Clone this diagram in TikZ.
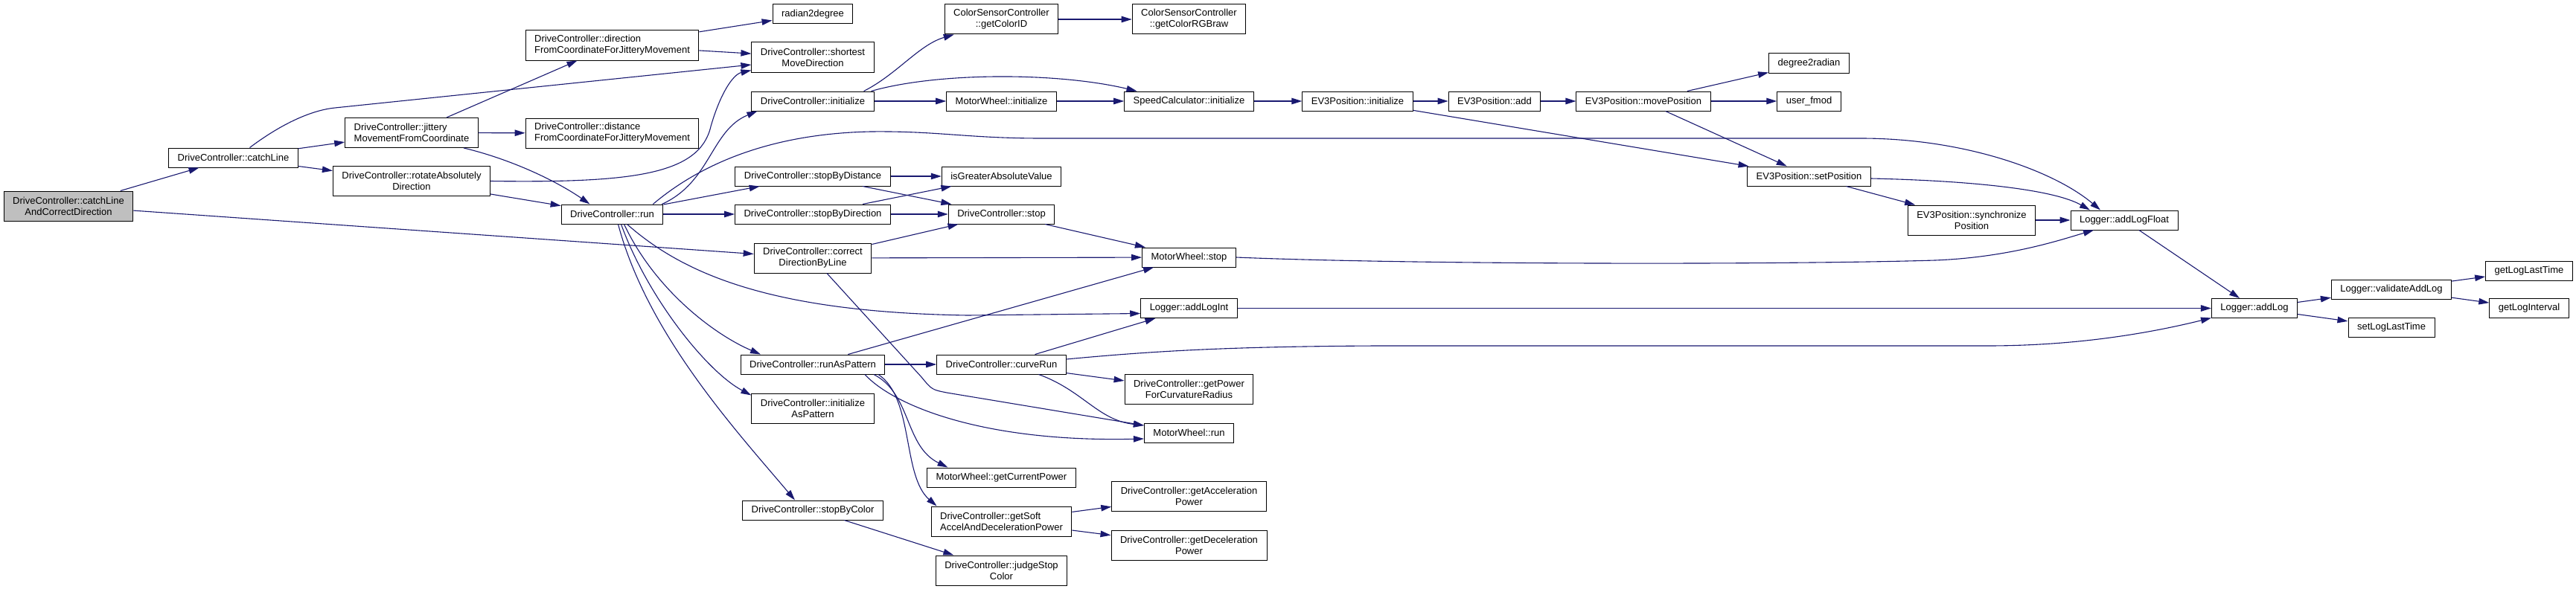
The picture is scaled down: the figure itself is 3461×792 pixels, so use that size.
\documentclass[tikz,border=0pt]{standalone}
\usepackage{fontspec}
\setsansfont{Liberation Sans}
\usepackage{tikz}
\usetikzlibrary{arrows.meta}
\definecolor{callblue}{HTML}{191970}
\definecolor{rootgray}{HTML}{BFBFBF}
\tikzset{
  font=\sffamily\fontsize{13}{15}\selectfont,
  fnbox/.style={
    rectangle, draw=black, fill=white, line width=1pt, text=black,
    align=center, inner xsep=12pt, inner ysep=6pt, minimum height=26pt
  },
  rootbox/.style={fnbox, fill=rootgray},
  twoline/.style={minimum height=40pt},
  leftbox/.style={align=left},
  callflow/.style={-{Triangle[length=14pt,width=8.5pt]}, draw=callblue, line width=1.1pt}
}

\begin{document}
\begin{tikzpicture}[x=1pt,y=-1pt]
  \useasboundingbox (0,0) rectangle (3461,792);

  % caller and first ranks
  \node[rootbox, twoline] (root) at (92,277) {DriveController::catchLine\\AndCorrectDirection};
  \node[fnbox] (catchLine) at (313.5,212) {DriveController::catchLine};
  \node[fnbox, twoline, leftbox] (jittery) at (553,178.5) {DriveController::jittery\\MovementFromCoordinate};
  \node[fnbox, twoline] (rotate) at (553,243.5) {DriveController::rotateAbsolutely\\Direction};
  \node[fnbox, twoline, leftbox] (direction) at (822.5,61) {DriveController::direction\\FromCoordinateForJitteryMovement};
  \node[fnbox, twoline, leftbox] (distance) at (822.5,179) {DriveController::distance\\FromCoordinateForJitteryMovement};
  \node[fnbox] (run) at (822.5,288) {DriveController::run};

  % DriveController members
  \node[fnbox] (rad2deg) at (1092,19) {radian2degree};
  \node[fnbox, twoline] (shortest) at (1092,77) {DriveController::shortest\\MoveDirection};
  \node[fnbox] (init) at (1092,136) {DriveController::initialize};
  \node[fnbox] (stopDist) at (1092,237) {DriveController::stopByDistance};
  \node[fnbox] (stopDir) at (1092,288) {DriveController::stopByDirection};
  \node[fnbox, twoline] (correct) at (1092,347) {DriveController::correct\\DirectionByLine};
  \node[fnbox] (runPattern) at (1092,490) {DriveController::runAsPattern};
  \node[fnbox, twoline] (initPattern) at (1092,549) {DriveController::initialize\\AsPattern};
  \node[fnbox] (stopColor) at (1092,686) {DriveController::stopByColor};

  % second level helpers
  \node[fnbox, twoline] (colorID) at (1345.5,26) {ColorSensorController\\::getColorID};
  \node[fnbox] (mwInit) at (1345.5,136) {MotorWheel::initialize};
  \node[fnbox] (isGreater) at (1345.5,237) {isGreaterAbsoluteValue};
  \node[fnbox] (stop) at (1345.5,288) {DriveController::stop};
  \node[fnbox] (curveRun) at (1345.5,490) {DriveController::curveRun};
  \node[fnbox] (curPower) at (1345.5,642) {MotorWheel::getCurrentPower};
  \node[fnbox, twoline, leftbox] (softPower) at (1345.5,701) {DriveController::getSoft\\AccelAndDecelerationPower};
  \node[fnbox, twoline] (judgeStop) at (1345.5,767) {DriveController::judgeStop\\Color};

  \node[fnbox, twoline] (colorRGB) at (1597.5,26) {ColorSensorController\\::getColorRGBraw};
  \node[fnbox] (speedInit) at (1597.5,136) {SpeedCalculator::initialize};
  \node[fnbox] (mwStop) at (1597.5,346) {MotorWheel::stop};
  \node[fnbox] (logInt) at (1597.5,414.5) {Logger::addLogInt};
  \node[fnbox, twoline] (curvPower) at (1597.5,523.5) {DriveController::getPower\\ForCurvatureRadius};
  \node[fnbox] (mwRun) at (1597.5,582) {MotorWheel::run};
  \node[fnbox, twoline] (accelPower) at (1597.5,667.5) {DriveController::getAcceleration\\Power};
  \node[fnbox, twoline] (decelPower) at (1597.5,733) {DriveController::getDeceleration\\Power};

  % EV3Position
  \node[fnbox] (posInit) at (1824,136) {EV3Position::initialize};
  \node[fnbox] (posAdd) at (2008,136) {EV3Position::add};
  \node[fnbox] (posMove) at (2208,136) {EV3Position::movePosition};
  \node[fnbox] (deg2rad) at (2430.5,85) {degree2radian};
  \node[fnbox] (fmod) at (2430.5,136) {user\_fmod};
  \node[fnbox] (posSet) at (2430.5,237) {EV3Position::setPosition};
  \node[fnbox, twoline] (posSync) at (2649,296) {EV3Position::synchronize\\Position};

  % Logger
  \node[fnbox] (logFloat) at (2854,296) {Logger::addLogFloat};
  \node[fnbox] (addLog) at (3029,414.5) {Logger::addLog};
  \node[fnbox] (validate) at (3213,389) {Logger::validateAddLog};
  \node[fnbox] (setLast) at (3213,440) {setLogLastTime};
  \node[fnbox] (getLast) at (3398,364) {getLogLastTime};
  \node[fnbox] (getInterval) at (3398,414.5) {getLogInterval};

  % calls from the left part
  \draw[callflow] (root) -- (catchLine);
  \draw[callflow] (root) -- (correct);
  \draw[callflow] (catchLine) -- (jittery);
  \draw[callflow] (catchLine) -- (rotate);
  \draw[callflow] ([xshift=22pt]catchLine.north) .. controls (380,165) and (420,148) .. (450,145) -- ([yshift=-10pt]shortest.west);
  \draw[callflow] (jittery) -- (direction);
  \draw[callflow] (jittery) -- (distance);
  \draw[callflow] ([xshift=70pt]jittery.south) .. controls (690,215) and (750,245) .. ([xshift=-30pt]run.north);
  \draw[callflow] (rotate.east) .. controls (850,246) and (940,235) .. (955,170) .. controls (968,125) and (985,100) .. ([yshift=3pt]shortest.south west);
  \draw[callflow] (rotate) -- (run);
  \draw[callflow] (direction) -- (rad2deg);
  \draw[callflow] (direction) -- (shortest);

  % calls from run
  \draw[callflow] ([xshift=-2pt]run.north east) .. controls (955,245) and (955,175) .. ([xshift=8pt]init.south west);
  \draw[callflow] ([xshift=-14pt]run.north east) .. controls (930,230) and (1020,180) .. (1170,177) .. controls (1260,176) and (1300,186) .. (1400,186) -- (2500,186) .. controls (2640,186) and (2760,230) .. ([xshift=-32pt]logFloat.north);
  \draw[callflow] (run) -- (stopDist);
  \draw[callflow] (run) -- (stopDir);
  \draw[callflow] ([xshift=16pt]run.south) .. controls (880,390) and (960,450) .. ([xshift=-70pt]runPattern.north);
  \draw[callflow] ([xshift=12pt]run.south) .. controls (870,400) and (950,500) .. ([yshift=-3pt]initPattern.north west);
  \draw[callflow] ([xshift=8pt]run.south) .. controls (870,450) and (990,580) .. ([xshift=-24pt]stopColor.north);
  \draw[callflow] ([xshift=20pt]run.south) .. controls (920,370) and (1040,420) .. (1300,424) -- ([yshift=-7pt]logInt.west);

  % stopping and correction
  \draw[callflow] (stopDist) -- (isGreater);
  \draw[callflow] (stopDist) -- (stop);
  \draw[callflow] (stopDir) -- (isGreater);
  \draw[callflow] (stopDir) -- (stop);
  \draw[callflow] (correct) -- (stop);
  \draw[callflow] (correct) -- (mwStop);
  \draw[callflow] ([xshift=19pt]correct.south) -- (1238,507) .. controls (1252,524) .. (1272,528) -- ([yshift=10pt]mwRun.west);
  \draw[callflow] (stop) -- (mwStop);

  % initialisation chain
  \draw[callflow] ([xshift=-14pt]init.north east) .. controls (1205,100) and (1235,60) .. ([xshift=13pt]colorID.south west);
  \draw[callflow] ([xshift=-4pt]init.north east) .. controls (1260,97) and (1420,97) .. ([xshift=-70pt]speedInit.north);
  \draw[callflow] (init) -- (mwInit);
  \draw[callflow] (mwInit) -- (speedInit);
  \draw[callflow] (colorID) -- (colorRGB);
  \draw[callflow] (speedInit) -- (posInit);
  \draw[callflow] (posInit) -- (posAdd);
  \draw[callflow] (posAdd) -- (posMove);
  \draw[callflow] (posInit) -- (posSet);
  \draw[callflow] (posMove) -- (deg2rad);
  \draw[callflow] (posMove) -- (fmod);
  \draw[callflow] (posMove) -- (posSet);
  \draw[callflow] ([yshift=-3pt]posSet.east) .. controls (2650,243) and (2760,255) .. ([xshift=-46pt]logFloat.north);
  \draw[callflow] (posSet) -- (posSync);
  \draw[callflow] (posSync) -- (logFloat);

  % pattern run
  \draw[callflow] (runPattern) -- (curveRun);
  \draw[callflow] (runPattern) -- (mwStop);
  \draw[callflow] ([xshift=70pt]runPattern.south) .. controls (1200,545) and (1320,595) .. ([yshift=-8pt]mwRun.west);
  \draw[callflow] ([xshift=82pt]runPattern.south) .. controls (1225,530) and (1215,600) .. ([xshift=-72pt]curPower.north);
  \draw[callflow] ([xshift=88pt]runPattern.south) .. controls (1228,535) and (1212,640) .. ([xshift=8pt]softPower.north west);
  \draw[callflow] (curveRun) -- (logInt);
  \draw[callflow] (curveRun) -- (curvPower);
  \draw[callflow] ([xshift=50pt]curveRun.south) .. controls (1455,525) and (1475,565) .. ([yshift=10pt]mwRun.west);
  \draw[callflow] ([yshift=7pt]curveRun.east) .. controls (1550,472) and (1650,466) .. (1850,465) -- (2670,465) .. controls (2800,465) and (2900,445) .. ([yshift=-13pt]addLog.west);
  \draw[callflow] (softPower) -- (accelPower);
  \draw[callflow] (softPower) -- (decelPower);
  \draw[callflow] (stopColor) -- (judgeStop);

  % logging
  \draw[callflow] (mwStop.east) .. controls (1900,356) and (2400,356) .. (2600,350) .. controls (2700,346) and (2770,322) .. ([xshift=-41pt]logFloat.south);
  \draw[callflow] (logFloat) -- (addLog);
  \draw[callflow] (logInt) -- (addLog);
  \draw[callflow] (addLog) -- (validate);
  \draw[callflow] (addLog) -- (setLast);
  \draw[callflow] (validate) -- (getLast);
  \draw[callflow] (validate) -- (getInterval);
\end{tikzpicture}
\end{document}
